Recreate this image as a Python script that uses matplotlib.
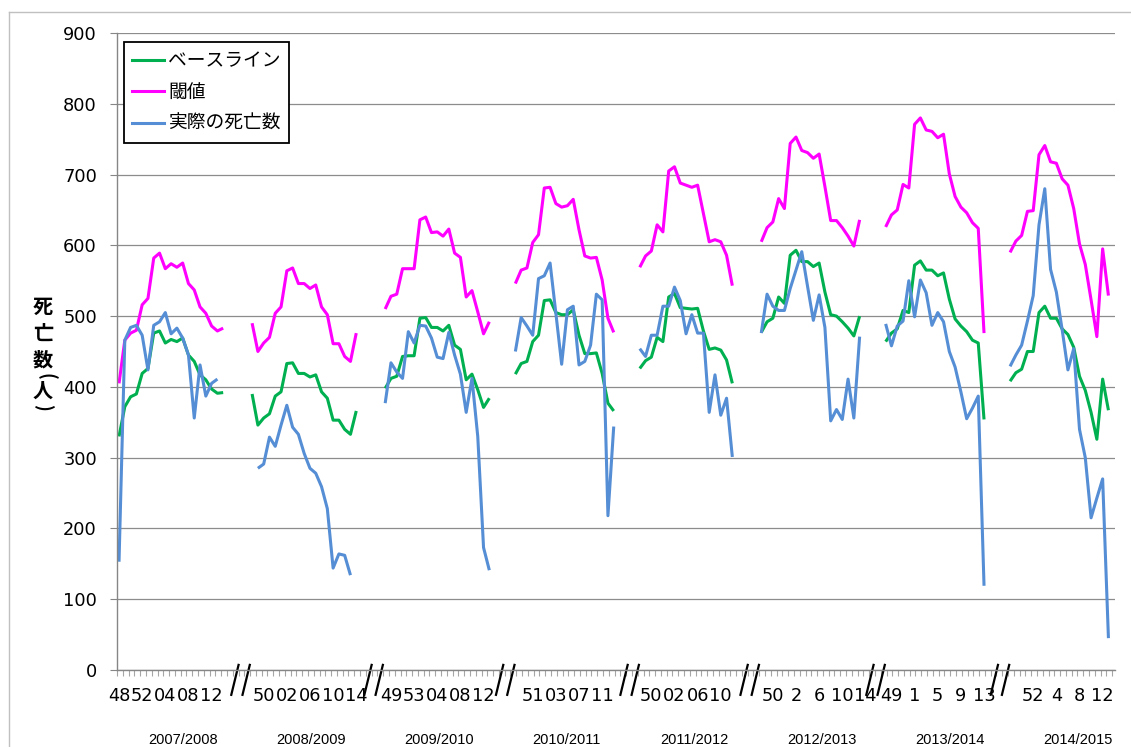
import numpy as np
import matplotlib.pyplot as plt
from matplotlib.lines import Line2D
import matplotlib.transforms as mtransforms

plt.rcParams['font.family'] = ['DejaVu Sans']

seasons = ['2007/2008', '2008/2009', '2009/2010', '2010/2011',
           '2011/2012', '2012/2013', '2013/2014', '2014/2015']

# week labels shown under each season and the week index they sit on
week_labels = [['48', '52', '04', '08', '12'],
               ['50', '02', '06', '10', '14'],
               ['49', '53', '04', '08', '12'],
               ['51', '03', '07', '11'],
               ['50', '02', '06', '10'],
               ['50', '2', '6', '10', '14'],
               ['49', '1', '5', '9', '13'],
               ['52', '4', '8', '12']]
week_label_idx = [[0, 4, 8, 12, 16], [2, 6, 10, 14, 18], [1, 5, 9, 13, 17],
                  [3, 7, 11, 15], [2, 6, 10, 14], [2, 6, 10, 14, 18],
                  [1, 5, 9, 13, 17], [4, 8, 12, 16]]

baseline = [
    [330, 372, 386, 390, 419, 426, 476, 479, 462, 467, 464, 469, 445, 436, 417, 410, 397, 391, 392],
    [390, 346, 356, 362, 387, 393, 433, 434, 419, 419, 414, 417, 393, 384, 353, 353, 340, 333, 366],
    [398, 412, 415, 443, 444, 444, 497, 498, 484, 484, 479, 487, 459, 453, 410, 418, 396, 371, 384],
    [418, 433, 436, 464, 473, 522, 523, 505, 502, 502, 509, 473, 447, 447, 448, 419, 377, 366],
    [426, 437, 442, 470, 464, 527, 532, 512, 511, 510, 511, 479, 453, 455, 452, 438, 405],
    [477, 492, 497, 527, 518, 586, 593, 577, 577, 570, 575, 534, 502, 500, 492, 483, 472, 500],
    [464, 476, 482, 508, 505, 572, 578, 565, 565, 557, 561, 524, 496, 486, 478, 466, 462, 354],
    [408, 420, 425, 450, 450, 505, 514, 497, 497, 482, 474, 456, 415, 395, 364, 326, 411, 367],
]

threshold = [
    [405, 466, 476, 480, 516, 525, 582, 589, 567, 574, 569, 575, 546, 537, 513, 504, 486, 479, 483],
    [490, 450, 462, 470, 504, 513, 564, 568, 546, 546, 539, 544, 513, 502, 461, 461, 443, 436, 476],
    [510, 528, 531, 567, 567, 567, 636, 640, 618, 619, 613, 623, 589, 583, 527, 536, 506, 475, 492],
    [546, 565, 568, 604, 615, 681, 682, 659, 654, 656, 665, 622, 585, 582, 583, 551, 497, 477],
    [569, 585, 592, 629, 619, 705, 711, 688, 685, 682, 685, 645, 605, 608, 605, 586, 543],
    [605, 625, 633, 666, 652, 744, 753, 734, 731, 723, 729, 683, 635, 635, 625, 613, 599, 636],
    [626, 643, 650, 686, 681, 771, 780, 763, 761, 752, 757, 701, 669, 654, 646, 632, 624, 476],
    [590, 606, 614, 648, 649, 728, 741, 718, 716, 694, 685, 652, 602, 573, 523, 471, 595, 529],
]

deaths = [
    [153, 466, 484, 487, 473, 424, 487, 492, 505, 475, 483, 469, 445, 356, 431, 387, 405, 411, None],
    [None, 285, 291, 329, 316, 346, 374, 343, 333, 306, 285, 278, 259, 228, 144, 164, 162, 134, None],
    [377, 434, 421, 412, 478, 462, 487, 486, 469, 442, 440, 477, 445, 418, 364, 412, 330, 173, 141],
    [450, 498, 486, 473, 553, 557, 575, 504, 432, 509, 514, 431, 436, 459, 531, 523, 218, 344],
    [454, 443, 473, 473, 514, 514, 541, 522, 475, 502, 476, 476, 364, 417, 360, 384, 301],
    [476, 531, 514, 508, 508, 539, 565, 591, 542, 494, 530, 484, 352, 368, 354, 411, 356, 471],
    [489, 458, 486, 493, 550, 499, 551, 533, 487, 505, 492, 450, 428, 393, 355, 370, 387, 119],
    [429, 445, 459, 493, 529, 629, 680, 566, 534, 481, 424, 454, 340, 300, 215, 243, 270, 45],
]

series_names = ['ベースライン', '閾値', '実際の死亡数']
colors = ['#00B050', '#FF00FF', '#558ED5']

# where each season starts on the category axis
season_start = [0, 23, 46, 68.5, 90, 111, 132.5, 154]

W, H = 1131, 747
fig = plt.figure(figsize=(W / 100, H / 100), dpi=100)
ax = fig.add_axes([117 / W, 77 / H, 998 / W, 637 / H])

px = 5.786  # pixels per category
ax.set_xlim(-0.35, -0.35 + 998 / px)
ax.set_ylim(0, 900)

for vals, col in zip([baseline, threshold, deaths], colors):
    for s0, v in zip(season_start, vals):
        y = np.array(v, dtype=float)
        x = s0 + np.arange(len(y))
        ax.plot(x, y, color=col, lw=2.2, solid_joinstyle='round', solid_capstyle='butt')

# axes styling
for side in ['top', 'right']:
    ax.spines[side].set_visible(False)
for side in ['left', 'bottom']:
    ax.spines[side].set_color('#868686')
    ax.spines[side].set_linewidth(1.0)
ax.set_yticks(range(0, 1000, 100))
ax.yaxis.grid(True, color='#8c8c8c', lw=0.9)
ax.set_axisbelow(True)
ax.tick_params(axis='y', direction='out', length=5, color='#868686', labelsize=12.8, pad=9.4)

tick_pos, tick_txt = [], []
for s0, idx, labs in zip(season_start, week_label_idx, week_labels):
    tick_pos += [s0 + i for i in idx]
    tick_txt += labs
ax.set_xticks(tick_pos)
ax.set_xticklabels(tick_txt)
ax.tick_params(axis='x', which='major', length=0, labelsize=12.8, pad=12)
ax.set_xticks(np.arange(-0.35, 172.2, 1.0), minor=True)
ax.tick_params(axis='x', which='minor', direction='out', length=4, color='#a6a6a6', width=0.8)

# season names under the week labels
trans = mtransforms.blended_transform_factory(ax.transData, ax.transAxes)
for i, name in enumerate(seasons):
    ax.text(11.06 + 22.1 * i, -0.11, name, transform=trans, ha='center', va='center',
            fontsize=10.5, family='Liberation Sans')

# axis break marks between seasons
n_pts = [len(t) for t in threshold]
for k in range(1, len(season_start)):
    c = (season_start[k - 1] + n_pts[k - 1] - 1 + season_start[k]) / 2 + 0.5
    for off in (-0.97, 0.97):
        ax.plot([c + off - 0.63, c + off + 0.63], [-0.039, 0.008], color='black', lw=1.6,
                transform=trans, clip_on=False)

# stacked y-axis title
cjk = 'Noto Sans CJK JP'
for ch, yy in zip(['死', '亡', '数', '人'], [306, 333, 360, 390]):
    fig.text(43 / W, 1 - yy / H, ch, ha='center', va='center', fontsize=14.5,
             fontweight='bold', family=cjk)
fig.text(46 / W, 1 - 376 / H, '(', ha='center', va='center', fontsize=13,
         fontweight='bold', family=cjk, rotation=-90)
fig.text(43 / W, 1 - 407 / H, ')', ha='center', va='center', fontsize=13,
         fontweight='bold', family=cjk, rotation=-90)

# legend
handles = [Line2D([], [], color=c, lw=2.2) for c in colors]
leg = ax.legend(handles, series_names, loc='upper left',
                bbox_to_anchor=(124 / W, 1 - 42 / H), bbox_transform=fig.transFigure,
                borderaxespad=0, fancybox=False, edgecolor='black', framealpha=1,
                prop={'family': cjk, 'size': 13.5}, handlelength=1.7,
                handletextpad=0.2, labelspacing=0.55, borderpad=0.45)
leg.get_frame().set_linewidth(1.3)

# outer chart border
fig.add_artist(Line2D([9 / W, 9 / W], [0, 1 - 12 / H], transform=fig.transFigure,
                      color='#c0c0c0', lw=1))
fig.add_artist(Line2D([9 / W, 1], [1 - 12 / H, 1 - 12 / H], transform=fig.transFigure,
                      color='#c0c0c0', lw=1))

fig.savefig('out.png', dpi=100)
